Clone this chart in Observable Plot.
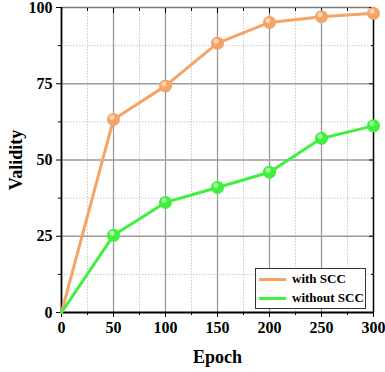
<!DOCTYPE html>
<html><head><meta charset="utf-8">
<script src="https://cdn.jsdelivr.net/npm/d3@7"></script>
<script src="https://cdn.jsdelivr.net/npm/@observablehq/plot@0.6"></script>
<style>
body{margin:0;background:#fff;}
#wrap{position:relative;width:385px;height:372px;font-family:"Liberation Serif","Times New Roman",serif;}
#legend{position:absolute;left:255px;top:268px;width:109px;height:39px;border:1.5px solid #333;background:#fff;font-weight:bold;font-size:13px;}
.row{position:absolute;left:3px;display:flex;align-items:center;}
.sw{width:27px;height:3px;margin-right:6px;}
</style>
</head><body>
<div id="wrap"><div id="legend"></div></div>
<script>
const epochs = [0, 50, 100, 150, 200, 250, 300];
const withSCC = [0, 63.3, 74.3, 88.3, 95.1, 97.0, 98.1];
const withoutSCC = [0, 25.3, 36.1, 41.0, 46.0, 57.1, 61.2];
const seriesNames = ["with SCC", "without SCC"];
const colors = ["#f5a468", "#3ff03f"];
const xMajor = [0, 50, 100, 150, 200, 250, 300];
const xMinor = [25, 75, 125, 175, 225, 275];
const yMajor = [0, 25, 50, 75, 100];
const yMinor = [12.5, 37.5, 62.5, 87.5];

const data = [];
[withSCC, withoutSCC].forEach((vals, s) => vals.forEach((v, i) => data.push({epoch: epochs[i], value: v, series: seriesNames[s]})));

const font = '"Liberation Serif","Times New Roman",serif';
const chart = Plot.plot({
  width: 385, height: 372,
  marginLeft: 61, marginRight: 12, marginTop: 7, marginBottom: 60,
  style: {fontFamily: font, fontSize: "16px", fontWeight: "bold", color: "#000", background: "#fff", overflow: "visible"},
  x: {domain: [0, 300]},
  y: {domain: [0, 100]},
  color: {domain: seriesNames, range: colors},
  marks: [
    Plot.ruleX(xMinor, {stroke: "#c8c8c8", strokeDasharray: "1.5,1.5", strokeWidth: 1}),
    Plot.ruleY(yMinor, {stroke: "#c8c8c8", strokeDasharray: "1.5,1.5", strokeWidth: 1}),
    Plot.ruleX(xMajor.slice(1, -1), {stroke: "#9a9a9a", strokeWidth: 1.3}),
    Plot.ruleY(yMajor.slice(1, -1), {stroke: "#9a9a9a", strokeWidth: 1.3}),
    Plot.ruleY([100], {stroke: "#777", strokeWidth: 1.5}),
    Plot.ruleX([300], {stroke: "#000", strokeWidth: 1.5}),
    Plot.axisX({anchor: "top", ticks: xMajor, tickSize: -5, tickFormat: () => "", label: null, stroke: "#000"}),
    Plot.axisY({anchor: "right", ticks: yMajor, tickSize: -5, tickFormat: () => "", label: null, stroke: "#000"}),
    Plot.axisX({anchor: "top", ticks: xMinor, tickSize: -3, tickFormat: () => "", label: null, stroke: "#000"}),
    Plot.axisY({anchor: "right", ticks: yMinor, tickSize: -3, tickFormat: () => "", label: null, stroke: "#000"}),
    Plot.axisX({ticks: xMinor, tickSize: 3, tickFormat: () => "", label: null, stroke: "#000"}),
    Plot.axisY({ticks: yMinor, tickSize: 3, tickFormat: () => "", label: null, stroke: "#000"}),
    Plot.axisX({ticks: xMajor, tickSize: 5, tickPadding: 4, tickStrokeWidth: 1.5, label: "Epoch", labelAnchor: "center", labelOffset: 50, labelArrow: "none", stroke: "#000"}),
    Plot.axisY({ticks: yMajor, tickSize: 5, tickPadding: 4, label: "Validity", labelAnchor: "center", labelOffset: 52, labelArrow: "none", stroke: "#000"}),
    Plot.ruleX([0], {stroke: "#000", strokeWidth: 1.8}),
    Plot.ruleY([0], {stroke: "#000", strokeWidth: 1.8}),
    Plot.line(data, {x: "epoch", y: "value", stroke: "series", strokeWidth: 3}),
    Plot.dot(data.filter(d => d.epoch > 0), {x: "epoch", y: "value", fill: "series", r: 6.5, stroke: "none"}),
    Plot.dot(data.filter(d => d.epoch > 0), {x: "epoch", y: "value", fill: "#fff", fillOpacity: 0.55, r: 2.5, dx: -1.5, dy: -2}),
  ]
});
const sel = d3.select(chart);
sel.selectAll("text").style("font-size", "16px").style("font-weight", "bold").style("font-family", font).style("fill", "#000");
sel.selectAll("[aria-label='x-axis label'] text, [aria-label='y-axis label'] text").style("font-size", "18px");
document.getElementById("wrap").prepend(chart);
chart.style.position = "absolute"; chart.style.left = "0"; chart.style.top = "0";
const leg = document.getElementById("legend");
leg.style.zIndex = 2;
seriesNames.forEach((n, i) => {
  const r = document.createElement("div");
  r.className = "row"; r.style.top = (i === 0 ? 2 : 21) + "px";
  r.innerHTML = `<div class="sw" style="background:${colors[i]}"></div><span>${n}</span>`;
  leg.appendChild(r);
});
</script>
</body></html>
